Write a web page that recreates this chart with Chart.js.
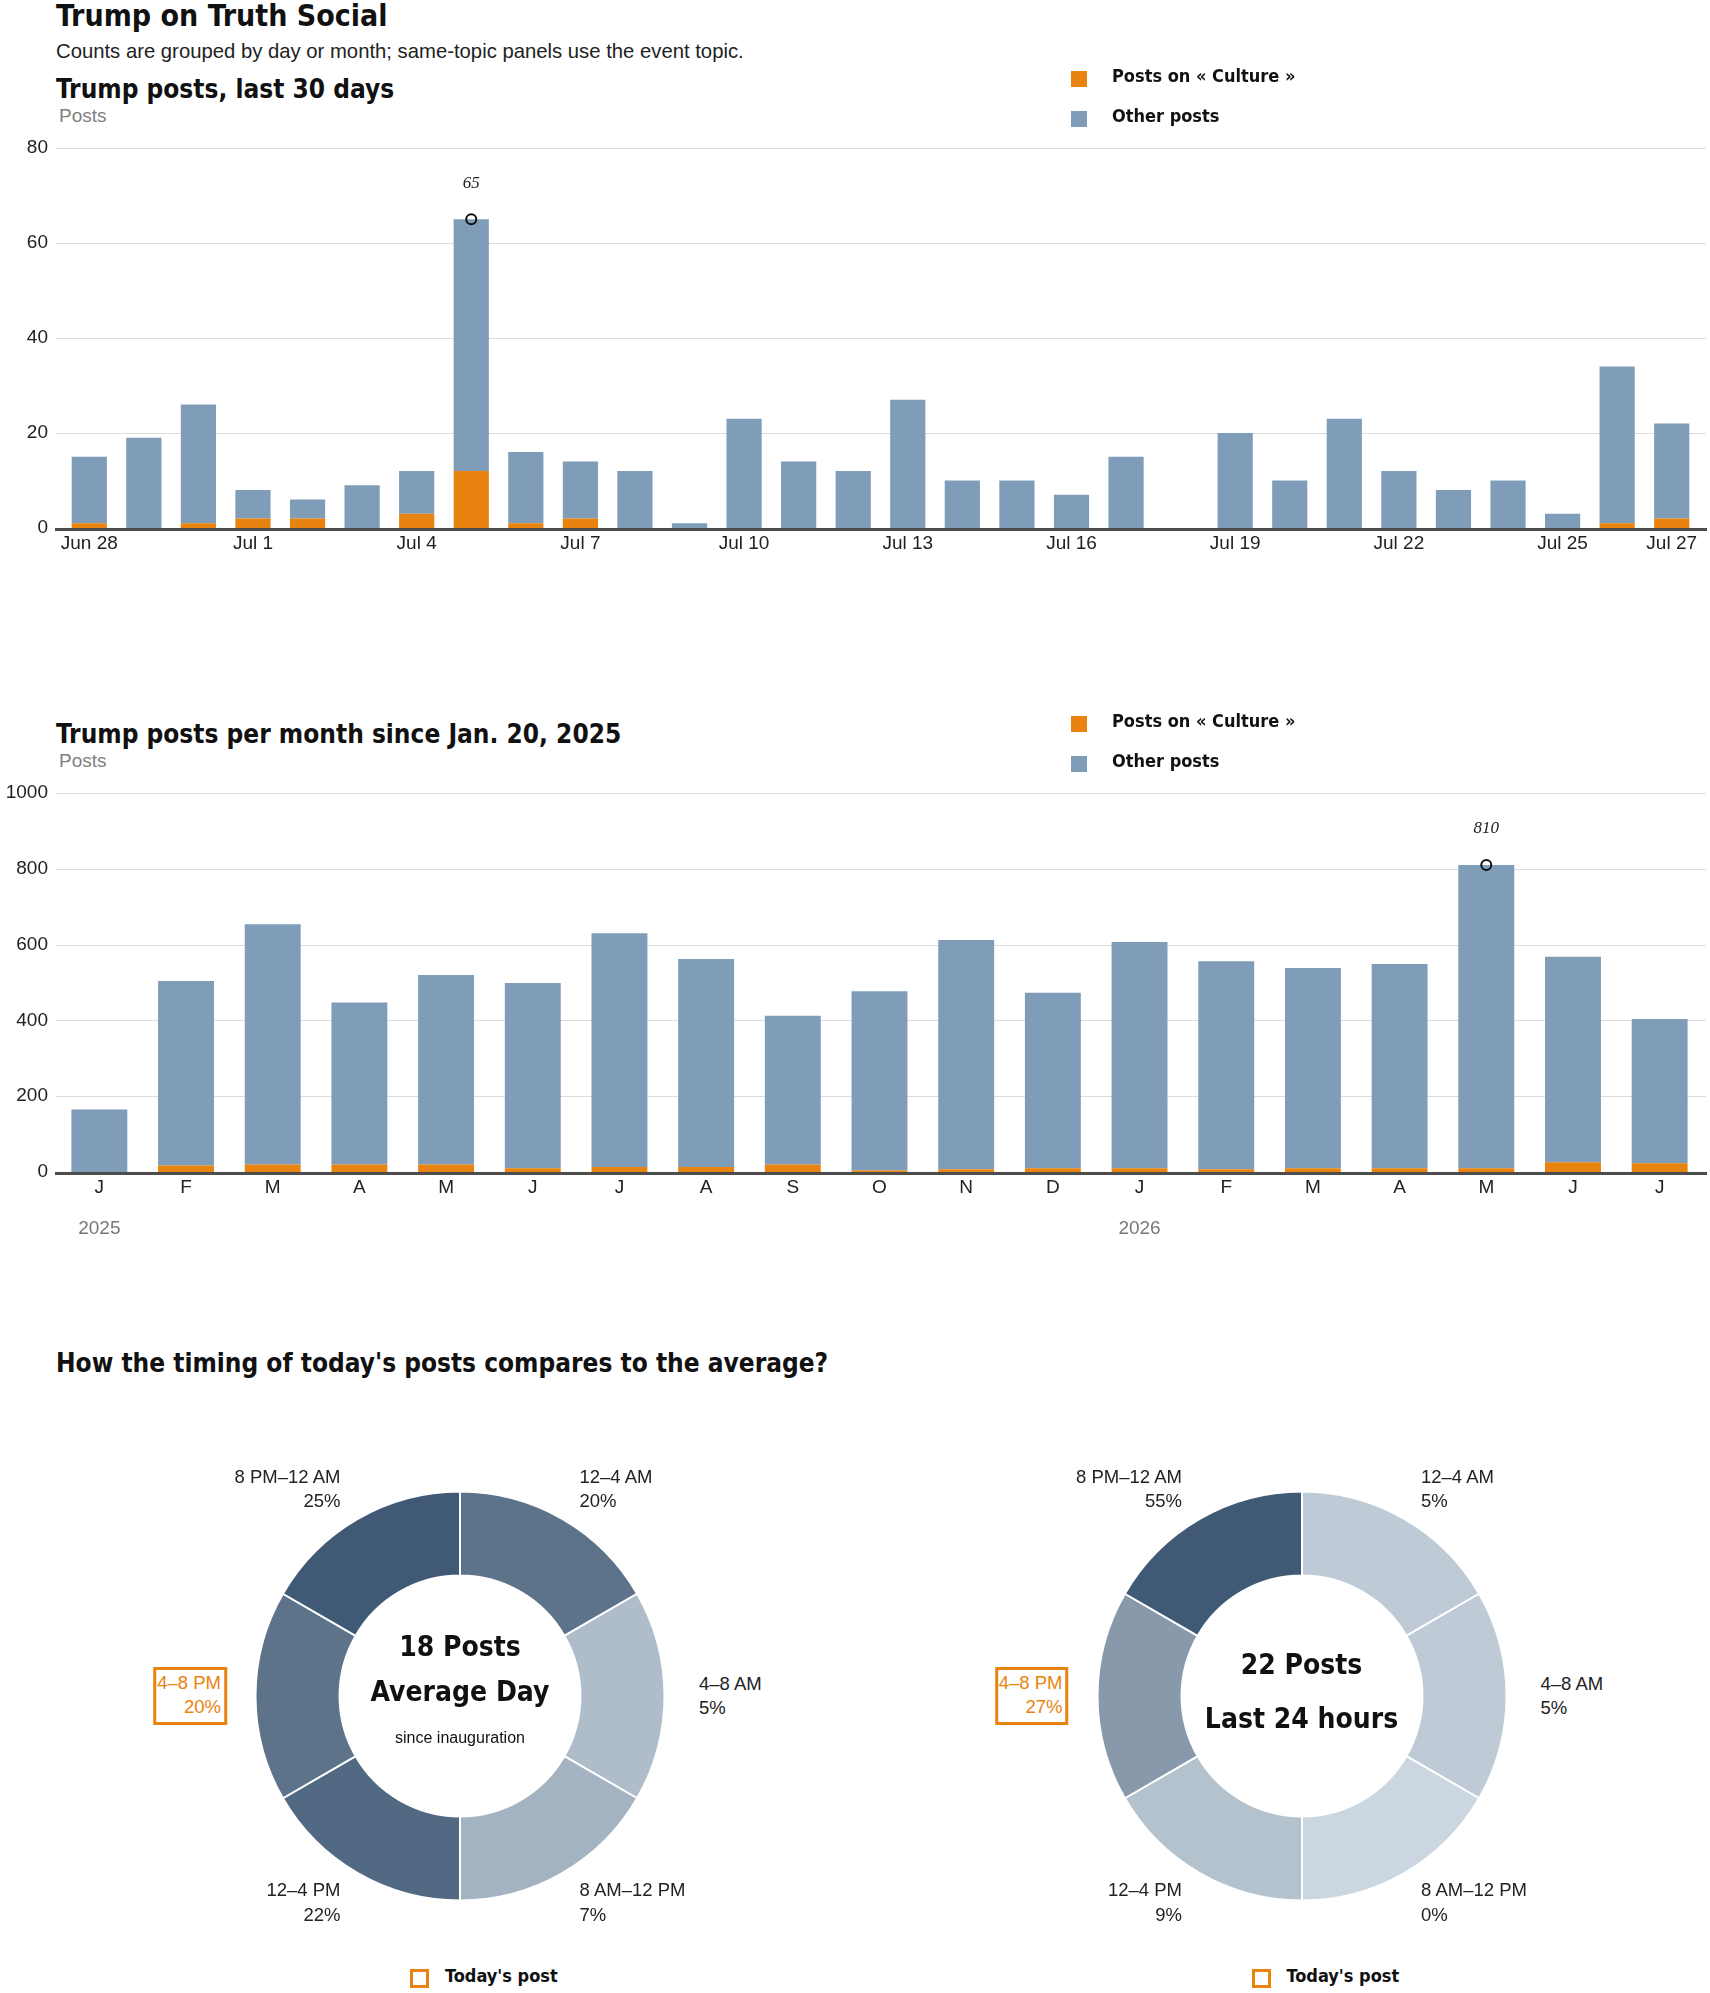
<!DOCTYPE html>
<html lang="en">
<head>
<meta charset="utf-8">
<title>Trump on Truth Social</title>
<script src="https://cdn.jsdelivr.net/npm/chart.js@4.4.1/dist/chart.umd.min.js"></script>
<style>
  html, body { margin: 0; padding: 0; background: #fff; }
  body { width: 1710px; height: 1993px; position: relative; overflow: hidden;
         font-family: "Liberation Sans", Arial, sans-serif; color: #222; }
  .txt { position: absolute; white-space: nowrap; line-height: 1; }
  .head { font-family: "Liberation Sans Narrow", "Arial Narrow", "DejaVu Sans Condensed", sans-serif;
          font-weight: 700; color: #111; }
  .unit { font-size: 19px; color: #808080; }
  .box { position: absolute; }
  .swatch { position: absolute; width: 16px; height: 16px; }
  .slot { position: absolute; font-size: 18.5px; line-height: 24.5px; white-space: nowrap; color: #222; }
  .slot.left { text-align: right; transform: translate(-100%, -50%); }
  .slot.right { text-align: left; transform: translate(0, -50%); }
  .slot.today { color: #e8830f; border: 3px solid #e8830f; padding: 1px 3px 2px 1px; }
  .center { position: absolute; transform: translate(-50%, -50%); white-space: nowrap; line-height: 1; text-align: center; color: #111; }
  .today-key { position: absolute; width: 13px; height: 13px; border: 3px solid #e8830f; }
</style>
</head>
<body>
  <div class="txt head" style="left:56px;top:1px;font-size:30px">Trump on Truth Social</div>
  <div class="txt" style="left:56px;top:41px;font-size:20.3px">Counts are grouped by day or month; same-topic panels use the event topic.</div>

  <div class="txt head" style="left:56px;top:76px;font-size:26px">Trump posts, last 30 days</div>
  <div class="txt unit" style="left:59px;top:106px">Posts</div>
  <div class="box" style="left:0;top:120px;width:1710px;height:440px"><canvas id="daily"></canvas></div>

  <div class="txt head" style="left:56px;top:721px;font-size:26px">Trump posts per month since Jan. 20, 2025</div>
  <div class="txt unit" style="left:59px;top:751px">Posts</div>
  <div class="box" style="left:0;top:765px;width:1710px;height:487px"><canvas id="monthly"></canvas></div>

  <div class="txt head" style="left:56px;top:1350px;font-size:26px">How the timing of today's posts compares to the average?</div>
  <div class="box" style="left:240px;top:1475.5px;width:440px;height:440px"><canvas id="avgDonut"></canvas></div>
  <div class="box" style="left:1081.5px;top:1475.5px;width:440px;height:440px"><canvas id="todayDonut"></canvas></div>

<script>
// ---- last 30 days ----
const dayLabels = ['Jun 28', 'Jun 29', 'Jun 30', 'Jul 1', 'Jul 2', 'Jul 3', 'Jul 4', 'Jul 5', 'Jul 6', 'Jul 7',
  'Jul 8', 'Jul 9', 'Jul 10', 'Jul 11', 'Jul 12', 'Jul 13', 'Jul 14', 'Jul 15', 'Jul 16', 'Jul 17',
  'Jul 18', 'Jul 19', 'Jul 20', 'Jul 21', 'Jul 22', 'Jul 23', 'Jul 24', 'Jul 25', 'Jul 26', 'Jul 27'];
const dayCulture = [1, 0, 1, 2, 2, 0, 3, 12, 1, 2, 0, 0, 0, 0, 0, 0, 0, 0, 0, 0, 0, 0, 0, 0, 0, 0, 0, 0, 1, 2];
const dayOther = [14, 19, 25, 6, 4, 9, 9, 53, 15, 12, 12, 1, 23, 14, 12, 27, 10, 10, 7, 15, 0, 20, 10, 23, 12, 8, 10, 3, 33, 20];
const dayTickLabels = ['Jun 28', 'Jul 1', 'Jul 4', 'Jul 7', 'Jul 10', 'Jul 13', 'Jul 16', 'Jul 19', 'Jul 22', 'Jul 25', 'Jul 27'];
const dayTicks = [0, 20, 40, 60, 80];

// ---- per month since inauguration ----
const monthLabels = ['J', 'F', 'M', 'A', 'M', 'J', 'J', 'A', 'S', 'O', 'N', 'D', 'J', 'F', 'M', 'A', 'M', 'J', 'J'];
const monthCulture = [0, 17, 20, 20, 20, 10, 13, 13, 20, 4, 7, 10, 10, 7, 10, 10, 10, 26, 23];
const monthOther = [165, 487, 634, 427, 500, 489, 617, 549, 392, 473, 605, 463, 597, 549, 528, 539, 800, 542, 381];
const yearLabels = ['2025', '2026'];
const yearStart = [0, 12];
const monthTicks = [0, 200, 400, 600, 800, 1000];

// ---- time of day ----
const slotLabels = ['12–4 AM', '4–8 AM', '8 AM–12 PM', '12–4 PM', '4–8 PM', '8 PM–12 AM'];
const slotHours = [4, 4, 4, 4, 4, 4];
const avgShare = [20, 5, 7, 22, 20, 25];
const todayShare = [5, 5, 0, 9, 27, 55];
const todaySlot = '4–8 PM';
const avgPosts = 18;
const todayPosts = 22;

const seriesNames = ['Posts on « Culture »', 'Other posts'];
const ORANGE = '#e8830f';
const BLUE = '#7f9db8';

Chart.defaults.font.family = '"Liberation Sans", Arial, sans-serif';
Chart.defaults.font.size = 19;
Chart.defaults.color = '#222';

// gridlines run a little past the plot, plus the heavy zero line, year marks and the peak note
const decor = {
  id: 'decor',
  beforeDatasetsDraw(chart, args, opts) {
    const y = chart.scales.y, ctx = chart.ctx;
    ctx.save();
    ctx.strokeStyle = '#dcdcdc';
    ctx.lineWidth = 1;
    y.ticks.forEach(t => {
      if (t.value === 0) return;
      const py = Math.round(y.getPixelForValue(t.value)) + 0.5;
      ctx.beginPath();
      ctx.moveTo(opts.left, py);
      ctx.lineTo(opts.right, py);
      ctx.stroke();
    });
    ctx.restore();
  },
  afterDatasetsDraw(chart, args, opts) {
    const x = chart.scales.x, y = chart.scales.y, ctx = chart.ctx;
    ctx.save();
    ctx.fillStyle = '#4d4d4d';
    ctx.fillRect(opts.left - 1, y.getPixelForValue(0), opts.right - opts.left + 2, 3);

    if (opts.years) {
      ctx.fillStyle = '#777';
      ctx.font = '19px "Liberation Sans", Arial, sans-serif';
      ctx.textAlign = 'center';
      ctx.textBaseline = 'alphabetic';
      opts.years.labels.forEach((lab, k) => {
        ctx.fillText(lab, x.getPixelForValue(opts.years.start[k]), chart.chartArea.bottom + 62);
      });
    }

    const meta = chart.getDatasetMeta(2);
    const vals = chart.data.datasets[2].data;
    meta.data.forEach((pt, i) => {
      if (vals[i] == null) return;
      ctx.fillStyle = '#222';
      ctx.font = 'italic 17px "Liberation Serif", serif';
      ctx.textAlign = 'center';
      ctx.textBaseline = 'middle';
      ctx.fillText(String(vals[i]), pt.x, pt.y - 36);
    });
    ctx.restore();
  }
};

function peakOnly(a, b) {
  const tot = a.map((v, i) => v + b[i]);
  const max = Math.max(...tot);
  return tot.map(v => (v === max ? v : null));
}

function barChart(id, cfg) {
  return new Chart(document.getElementById(id), {
    type: 'bar',
    data: {
      labels: cfg.labels,
      datasets: [
        { label: seriesNames[0], data: cfg.culture, backgroundColor: ORANGE, stack: 'posts', order: 1,
          barPercentage: cfg.barPct, categoryPercentage: 1 },
        { label: seriesNames[1], data: cfg.other, backgroundColor: BLUE, stack: 'posts', order: 1,
          barPercentage: cfg.barPct, categoryPercentage: 1 },
        { type: 'line', data: peakOnly(cfg.culture, cfg.other), stack: 'peak', order: 0, showLine: false,
          pointRadius: 5, pointBorderWidth: 2, pointBorderColor: '#111', pointBackgroundColor: 'rgba(0,0,0,0)' }
      ]
    },
    options: {
      responsive: true,
      maintainAspectRatio: false,
      animation: false,
      events: [],
      layout: { padding: { top: 28, right: cfg.padRight, left: 0, bottom: 0 } },
      scales: {
        x: {
          stacked: true,
          grid: { display: false, drawTicks: false },
          border: { display: false },
          afterFit(s) { s.height = cfg.xHeight; },
          ticks: {
            autoSkip: false, maxRotation: 0, padding: 4,
            callback(v, i) { return cfg.tickFilter(i); }
          }
        },
        y: {
          stacked: true,
          min: 0,
          max: cfg.ticks[cfg.ticks.length - 1],
          grid: { display: false, drawTicks: false },
          border: { display: false },
          afterFit(s) { s.width = cfg.yWidth; },
          afterBuildTicks(s) { s.ticks = cfg.ticks.map(v => ({ value: v })); },
          ticks: { padding: cfg.yWidth - 48, callback: v => String(v) }
        }
      },
      plugins: {
        legend: { display: false },
        tooltip: { enabled: false },
        decor: { left: 56, right: 1706, years: cfg.years }
      }
    },
    plugins: [decor]
  });
}

barChart('daily', {
  labels: dayLabels, culture: dayCulture, other: dayOther, ticks: dayTicks,
  barPct: 0.645, padRight: 11, yWidth: 62, xHeight: 32,
  tickFilter: i => (dayTickLabels.includes(dayLabels[i]) ? dayLabels[i] : '')
});

barChart('monthly', {
  labels: monthLabels, culture: monthCulture, other: monthOther, ticks: monthTicks,
  barPct: 0.645, padRight: 6, yWidth: 56, xHeight: 80,
  tickFilter: i => monthLabels[i],
  years: { labels: yearLabels, start: yearStart }
});

// legends
function legend(top) {
  [ORANGE, BLUE].forEach((c, i) => {
    const sw = document.createElement('div');
    sw.className = 'swatch';
    sw.style.cssText = `left:1071px;top:${top + i * 40}px;background:${c}`;
    document.body.appendChild(sw);
    const t = document.createElement('div');
    t.className = 'txt head';
    t.style.cssText = `left:1112px;top:${top + i * 40 - 3.7}px;font-size:18px`;
    t.textContent = seriesNames[i];
    document.body.appendChild(t);
  });
}
legend(71);
legend(716);

// doughnuts
const LIGHT = [203, 214, 224], DARK = [64, 90, 117];
function shade(f) {
  const c = LIGHT.map((l, k) => Math.round(l + (DARK[k] - l) * f));
  return `rgb(${c[0]},${c[1]},${c[2]})`;
}

function donut(id, shares, cx, cy, centerLines) {
  const max = Math.max(...shares);
  new Chart(document.getElementById(id), {
    type: 'doughnut',
    data: {
      labels: slotLabels,
      datasets: [{ data: slotHours, backgroundColor: shares.map(s => shade(s / max)), borderColor: '#fff', borderWidth: 2 }]
    },
    options: {
      responsive: true, maintainAspectRatio: false, animation: false, events: [],
      radius: 204.5, cutout: '58.9%',
      plugins: { legend: { display: false }, tooltip: { enabled: false } }
    }
  });

  const total = slotHours.reduce((a, b) => a + b, 0);
  let acc = 0;
  slotLabels.forEach((lab, i) => {
    const mid = (acc + slotHours[i] / 2) / total * 2 * Math.PI;
    acc += slotHours[i];
    const right = Math.sin(mid) > 0.01;
    const isToday = lab === todaySlot;
    const el = document.createElement('div');
    el.className = 'slot ' + (right ? 'right' : 'left') + (isToday ? ' today' : '');
    let ax = cx + 239 * Math.sin(mid);
    if (isToday && !right) ax += 6;
    const ay = cy - 239 * Math.cos(mid);
    el.style.left = ax + 'px';
    el.style.top = ay + 'px';
    el.innerHTML = lab + '<br>' + shares[i] + '%';
    document.body.appendChild(el);
  });

  centerLines.forEach(l => {
    const el = document.createElement('div');
    el.className = 'center' + (l.bold ? ' head' : '');
    el.style.cssText = `left:${cx}px;top:${cy + l.dy}px;font-size:${l.size}px`;
    el.textContent = l.text;
    document.body.appendChild(el);
  });

  const key = document.createElement('div');
  key.className = 'today-key';
  key.style.cssText = `left:${cx - 50}px;top:1969px`;
  document.body.appendChild(key);
  const kt = document.createElement('div');
  kt.className = 'txt head';
  kt.style.cssText = `left:${cx - 15}px;top:1967px;font-size:18px`;
  kt.textContent = "Today's post";
  document.body.appendChild(kt);
}

donut('avgDonut', avgShare, 460, 1695.5, [
  { text: avgPosts + ' Posts', dy: -48.5, size: 28, bold: true },
  { text: 'Average Day', dy: -3.5, size: 28, bold: true },
  { text: 'since inauguration', dy: 42, size: 16 }
]);
donut('todayDonut', todayShare, 1301.5, 1695.5, [
  { text: todayPosts + ' Posts', dy: -30.5, size: 28, bold: true },
  { text: 'Last 24 hours', dy: 23, size: 28, bold: true }
]);
</script>
</body>
</html>
